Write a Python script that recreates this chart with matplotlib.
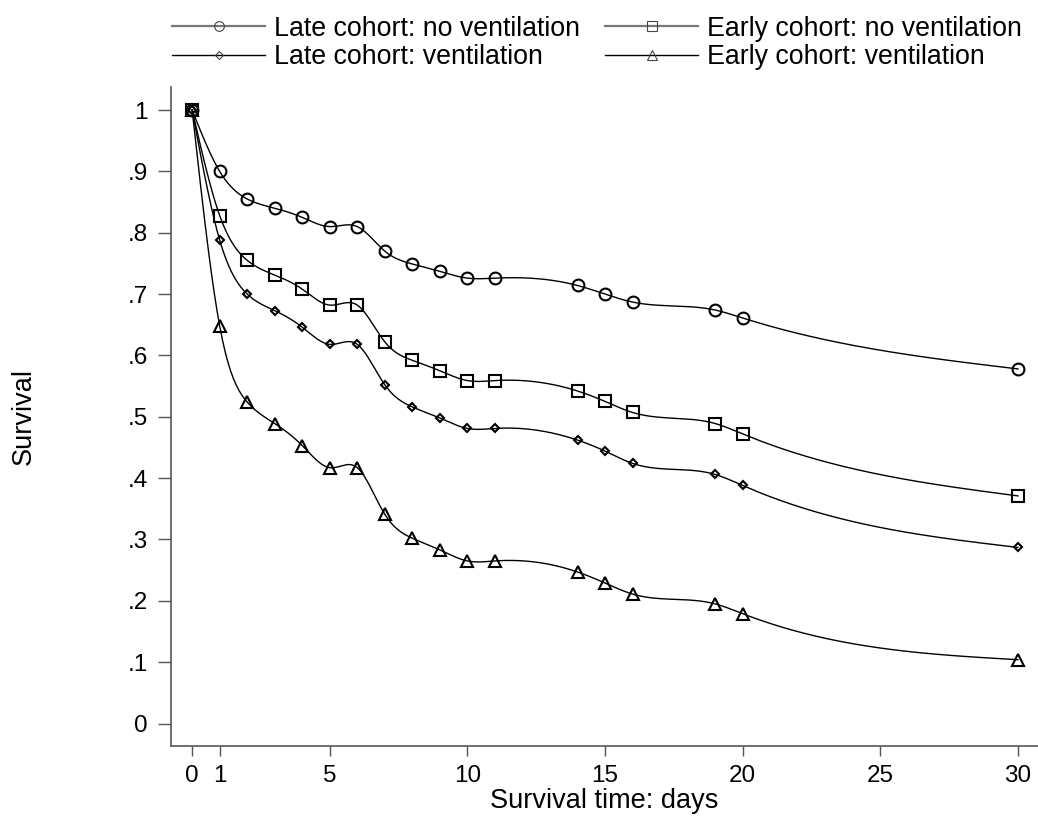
import numpy as np
import matplotlib
matplotlib.use("Agg")
import matplotlib.pyplot as plt
from matplotlib.lines import Line2D

plt.rcParams['font.family'] = ['Liberation Sans', 'DejaVu Sans']

# survival time (days) at which survival was estimated
days = [0, 1, 2, 3, 4, 5, 6, 7, 8, 9, 10, 11, 14, 15, 16, 19, 20, 30]

late_novent = [1, .900, .855, .840, .825, .810, .810, .770, .749, .737, .726, .726,
               .714, .700, .687, .674, .661, .578]
early_novent = [1, .828, .755, .731, .708, .682, .682, .622, .592, .575, .559, .559,
                .542, .525, .507, .489, .472, .371]
late_vent = [1, .788, .700, .673, .646, .618, .618, .552, .516, .498, .481, .481,
             .462, .444, .424, .406, .388, .287]
early_vent = [1, .648, .524, .489, .453, .417, .417, .341, .302, .283, .265, .265,
              .247, .229, .211, .195, .179, .104]

labels = ['Late cohort: no ventilation', 'Early cohort: no ventilation',
          'Late cohort: ventilation', 'Early cohort: ventilation']


def spline(x, y, n=600):
    # natural cubic spline through the points, for the smooth connecting line
    x = np.asarray(x, float)
    y = np.asarray(y, float)
    k = len(x)
    h = np.diff(x)
    A = np.zeros((k, k))
    b = np.zeros(k)
    A[0, 0] = A[-1, -1] = 1
    for i in range(1, k - 1):
        A[i, i - 1] = h[i - 1]
        A[i, i] = 2 * (h[i - 1] + h[i])
        A[i, i + 1] = h[i]
        b[i] = 6 * ((y[i + 1] - y[i]) / h[i] - (y[i] - y[i - 1]) / h[i - 1])
    M = np.linalg.solve(A, b)
    xs = np.linspace(x[0], x[-1], n)
    j = np.clip(np.searchsorted(x, xs) - 1, 0, k - 2)
    t0 = x[j + 1] - xs
    t1 = xs - x[j]
    hj = h[j]
    ys = (M[j] * t0**3 / (6 * hj) + M[j + 1] * t1**3 / (6 * hj)
          + (y[j] / hj - M[j] * hj / 6) * t0 + (y[j + 1] / hj - M[j + 1] * hj / 6) * t1)
    return xs, ys


fig = plt.figure(figsize=(10.38, 8.18), dpi=100)
ax = fig.add_axes([0.1647, 0.088, 0.8353, 0.8056])

series = [late_novent, early_novent, late_vent, early_vent]
markers = ['o', 's', 'D', '^']
msizes = [8.5, 8.5, 4.3, 9]

for vals, m, ms in zip(series, markers, msizes):
    xs, ys = spline(days, vals)
    ax.plot(xs, ys, color='black', lw=1.0)
    ax.plot(days, vals, ls='none', marker=m, ms=ms, mfc='none', mec='black', mew=1.5)

ax.set_xlim(-0.77, 30.73)
ax.set_ylim(-0.0367, 1.0375)
ax.set_xticks([0, 1, 5, 10, 15, 20, 25, 30])
ax.set_yticks(np.arange(0, 1.01, 0.1))
ax.set_yticklabels(['0', '.1', '.2', '.3', '.4', '.5', '.6', '.7', '.8', '.9', '1'])
ax.tick_params(labelsize=17.5, width=1, color='#555555')
ax.tick_params(axis='y', length=9.5, pad=7)
ax.tick_params(axis='x', length=7.5, pad=6)
for s in ['top', 'right']:
    ax.spines[s].set_visible(False)
for s in ['left', 'bottom']:
    ax.spines[s].set_color('#555555')
    ax.spines[s].set_linewidth(1.2)

ax.set_xlabel('Survival time: days', fontsize=19.5, labelpad=1)
ax.set_ylabel('Survival', fontsize=19.5)
ax.yaxis.set_label_coords(-0.155, 0.5)

# legend rows: first row gray keys, second row black keys
key_colors = ['#777777', '#777777', 'black', 'black']
key_widths = [1.6, 1.6, 1.0, 1.0]
key_ms = [7, 7, 4, 7]
handles = [Line2D([], [], color=c, lw=w, marker=m, ms=s, mfc='none',
                  mec='#444444', mew=0.8)
           for c, w, m, s in zip(key_colors, key_widths, markers, key_ms)]
order = [0, 2, 1, 3]  # legend fills column by column
fig.legend([handles[i] for i in order], [labels[i] for i in order],
           loc='upper left', bbox_to_anchor=(0.1657, 0.981), ncol=2,
           frameon=False, fontsize=19.3, handlelength=3.47, handletextpad=0.34,
           columnspacing=0.93, labelspacing=0.1, borderpad=0, borderaxespad=0)

fig.savefig('out.png', dpi=100)
